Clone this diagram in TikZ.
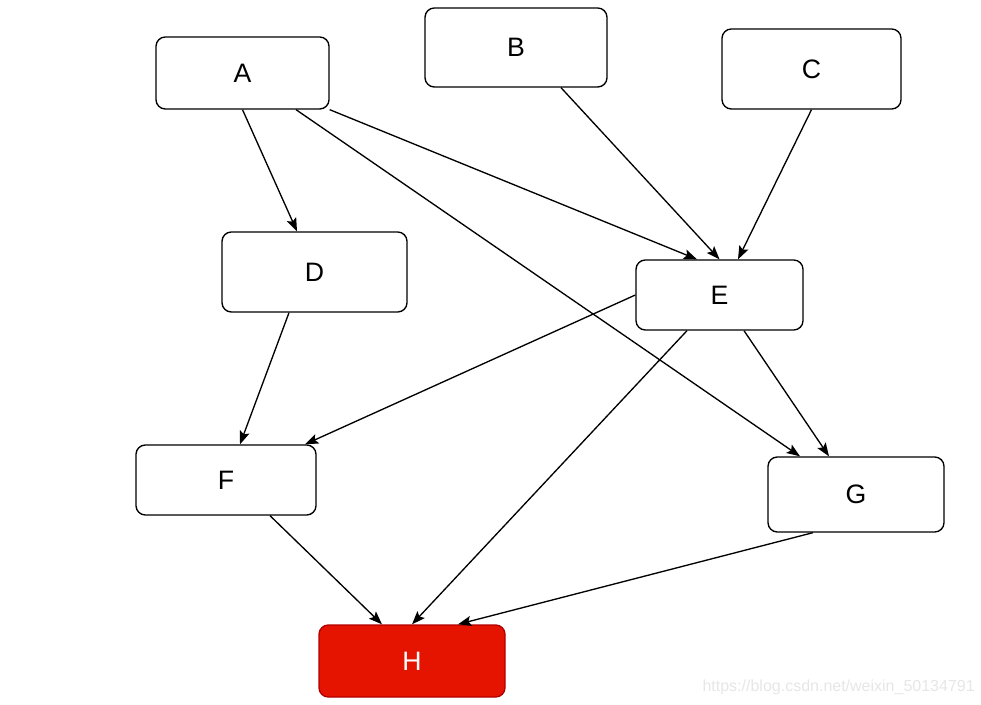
\documentclass[tikz,border=0pt]{standalone}
\usepackage{fontspec}
\setmainfont{Liberation Sans}
\usetikzlibrary{arrows.meta,calc}
\begin{document}
\begin{tikzpicture}[x=0.75pt,y=-0.75pt,
  box/.style={draw=black,line width=1pt,rounded corners=7pt,fill=white,inner sep=0pt,font=\fontsize{20}{22}\selectfont},
  hot/.style={box,draw={rgb,255:red,178;green,0;blue,0},fill={rgb,255:red,229;green,20;blue,0},text=white},
  link/.style={line width=1pt,-{Stealth[length=10pt,width=7.5pt,inset=2pt]}}]
\useasboundingbox (0,0) rectangle (981,705);
\node[box,minimum width=173*0.75pt,minimum height=72*0.75pt] (A) at (242.5,73) {A};
\node[box,minimum width=182*0.75pt,minimum height=79*0.75pt] (B) at (516,47.5) {B};
\node[box,minimum width=179*0.75pt,minimum height=80*0.75pt] (C) at (811.5,69) {C};
\node[box,minimum width=185*0.75pt,minimum height=80*0.75pt] (D) at (314.5,272) {D};
\node[box,minimum width=167*0.75pt,minimum height=70*0.75pt] (E) at (719.5,295) {E};
\node[box,minimum width=180*0.75pt,minimum height=70*0.75pt] (F) at (226,480) {F};
\node[box,minimum width=176*0.75pt,minimum height=75*0.75pt] (G) at (856,494.5) {G};
\node[hot,minimum width=186*0.75pt,minimum height=72*0.75pt] (H) at (412,661) {H};
\node[anchor=east,text={rgb,255:red,230;green,230;blue,230},font=\fontsize{12}{14}\selectfont,inner sep=0pt] (wm) at (975,687) {https://blog.csdn.net/weixin\_50134791};
\draw[link] (A.south) -- ($(D.north)+(-17.5,0)$);
\draw[link] (A.south east) -- ($(E.north)+(-22.5,0)$);
\draw[link] ($(A.south)+(53.5,0)$) -- ($(G.north)+(-56,0)$);
\draw[link] ($(B.south)+(45,0)$) -- (E.north);
\draw[link] (C.south) -- ($(E.north)+(18.5,0)$);
\draw[link] ($(D.south)+(-25.5,0)$) -- ($(F.north)+(14,0)$);
\draw[link] (E.west) -- ($(F.north)+(79,0)$);
\draw[link] ($(E.south)+(-32.5,0)$) -- (H.north);
\draw[link] ($(E.south)+(24.5,0)$) -- ($(G.north)+(-27,0)$);
\draw[link] ($(F.south)+(44,0)$) -- ($(H.north)+(-30,0)$);
\draw[link] ($(G.south)+(-43,0)$) -- ($(H.north)+(46,0)$);
\end{tikzpicture}
\end{document}
